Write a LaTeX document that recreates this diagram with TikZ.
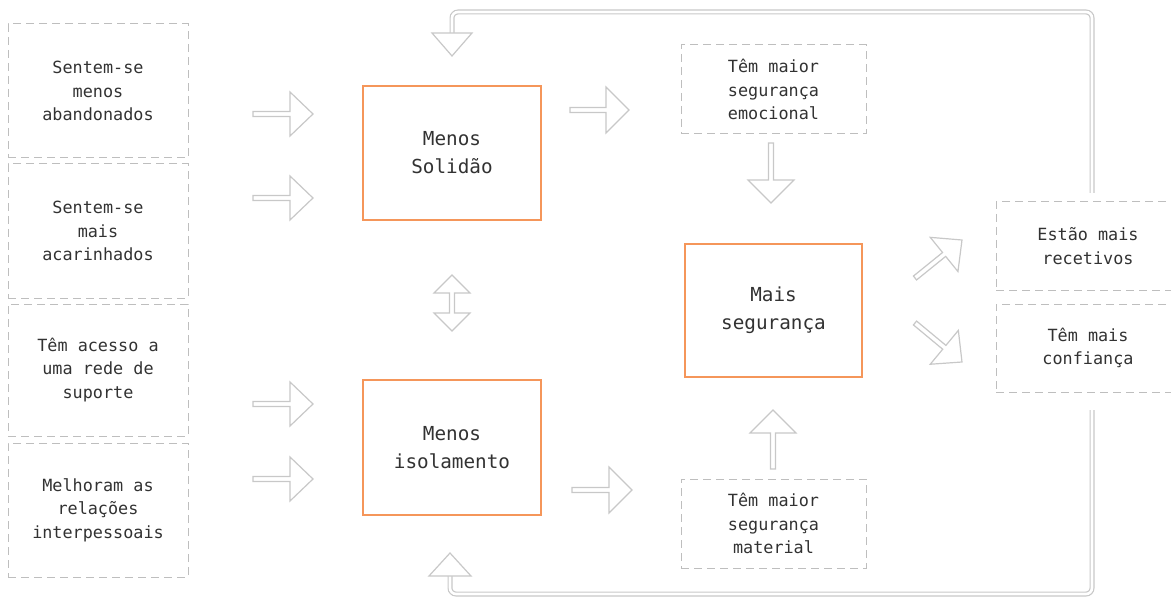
\documentclass[tikz,border=0pt]{standalone}
\usepackage{fontspec}
\newfontfamily\diagfont{DejaVu Sans Mono}
\usetikzlibrary{calc}

\definecolor{boxgray}{RGB}{190,190,190}
\definecolor{arrowgray}{RGB}{200,200,200}
\definecolor{huborange}{RGB}{245,150,90}
\definecolor{txtgray}{RGB}{50,50,50}

% hollow block arrow: [half head width]{tail}{tip}
\newcommand{\blockarrow}[3][22]{%
  \coordinate (ba-h) at ($(#3)!23pt!(#2)$);
  \draw[arrow shape] ($(#2)!2.5pt!90:(#3)$) -- ($(ba-h)!2.5pt!90:(#3)$)
    -- ($(ba-h)!#1pt!90:(#3)$) -- (#3) -- ($(ba-h)!#1pt!-90:(#3)$)
    -- ($(ba-h)!2.5pt!-90:(#3)$) -- ($(#2)!2.5pt!-90:(#3)$) -- cycle;}

\begin{document}
\begin{tikzpicture}[x=1pt,y=-1pt,
  effect node/.style={draw=boxgray,dash pattern=on 8pt off 5pt,line width=1pt,inner sep=0pt,
    align=center,text=txtgray,font=\diagfont\fontsize{16.8}{23.5}\selectfont},
  hub node/.style={draw=huborange,line width=2pt,inner sep=0pt,minimum width=178pt,
    minimum height=134pt,align=center,text=txtgray,font=\diagfont\fontsize{19.3}{28}\selectfont},
  arrow shape/.style={draw=arrowgray,line width=1.2pt,fill=white,line join=miter},
  loop line/.style={draw=arrowgray,line width=1.2pt,double=white,double distance=2.6pt,
    rounded corners=6pt}]

  \useasboundingbox (0,0) rectangle (1171,599);

  % causes
  \node[effect node,minimum width=180pt,minimum height=134pt] (aband) at (98,91) {Sentem-se\\menos\\abandonados};
  \node[effect node,minimum width=180pt,minimum height=134pt] (acar) at (98,231) {Sentem-se\\mais\\acarinhados};
  \node[effect node,minimum width=180pt,minimum height=132pt] (rede) at (98,370) {Têm acesso a\\uma rede de\\suporte};
  \node[effect node,minimum width=180pt,minimum height=134pt] (relac) at (98,510) {Melhoram as\\relações\\interpessoais};

  % hubs
  \node[hub node] (solidao) at (452,153) {Menos\\Solidão};
  \node[hub node,minimum height=135pt] (isol) at (452,447.5) {Menos\\isolamento};
  \node[hub node,minimum width=177pt,minimum height=133pt] (seg) at (773.5,310.5) {Mais\\segurança};

  % middle effects
  \node[effect node,minimum width=185pt,minimum height=89pt] (emoc) at (773.5,89.5) {Têm maior\\segurança\\emocional};
  \node[effect node,minimum width=185pt,minimum height=89pt] (mater) at (773.5,523.5) {Têm maior\\segurança\\material};

  % outcomes
  \node[effect node,minimum width=184pt,minimum height=88pt] (recet) at (1088,246) {Estão mais\\recetivos};
  \node[effect node,minimum width=184pt,minimum height=88pt] (confi) at (1088,348) {Têm mais\\confiança};

  % arrow ends
  \coordinate (a1t) at (253,114); \coordinate (a1e) at (313,114);
  \coordinate (a2t) at (253,198); \coordinate (a2e) at (313,198);
  \coordinate (a3t) at (253,404); \coordinate (a3e) at (313,404);
  \coordinate (a4t) at (253,479); \coordinate (a4e) at (313,479);
  \coordinate (a5t) at (570,110); \coordinate (a5e) at (629,110);
  \coordinate (a6t) at (572,490); \coordinate (a6e) at (632,490);
  \coordinate (a7t) at (771,143); \coordinate (a7e) at (771,203);
  \coordinate (a8t) at (773,469); \coordinate (a8e) at (773,410);
  \coordinate (a9t) at (915,278); \coordinate (a9e) at (962,240);
  \coordinate (a10t) at (915,323); \coordinate (a10e) at (962,362);

  \blockarrow{a1t}{a1e}
  \blockarrow{a2t}{a2e}
  \blockarrow{a3t}{a3e}
  \blockarrow{a4t}{a4e}
  \blockarrow[23]{a5t}{a5e}
  \blockarrow[23]{a6t}{a6e}
  \blockarrow[23]{a7t}{a7e}
  \blockarrow[23]{a8t}{a8e}
  \blockarrow{a9t}{a9e}
  \blockarrow{a10t}{a10e}

  % solidao <-> isolamento
  \coordinate (dtop) at (452,275); \coordinate (dbot) at (452,331);
  \draw[arrow shape] (dtop) -- ($(dtop)+(18,18)$) -- ($(dtop)+(2.5,18)$) -- ($(dbot)+(2.5,-18)$)
    -- ($(dbot)+(18,-18)$) -- (dbot) -- ($(dbot)+(-18,-18)$) -- ($(dbot)+(-2.5,-18)$)
    -- ($(dtop)+(-2.5,18)$) -- ($(dtop)+(-18,18)$) -- cycle;

  % feedback loops
  \coordinate (fb1) at (1092,193); \coordinate (fb1h) at (452,33); \coordinate (fb1e) at (452,56);
  \coordinate (fb2) at (1092,410); \coordinate (fb2h) at (450,576); \coordinate (fb2e) at (450,553);
  \draw[loop line] (fb1) |- ($(fb1h)+(0,-21)$) -- (fb1h);
  \draw[arrow shape] ($(fb1h)+(-20,0)$) -- ($(fb1h)+(20,0)$) -- (fb1e) -- cycle;
  \draw[loop line] (fb2) |- ($(fb2h)+(0,18)$) -- (fb2h);
  \draw[arrow shape] ($(fb2h)+(-21,0)$) -- ($(fb2h)+(21,0)$) -- (fb2e) -- cycle;
\end{tikzpicture}
\end{document}
